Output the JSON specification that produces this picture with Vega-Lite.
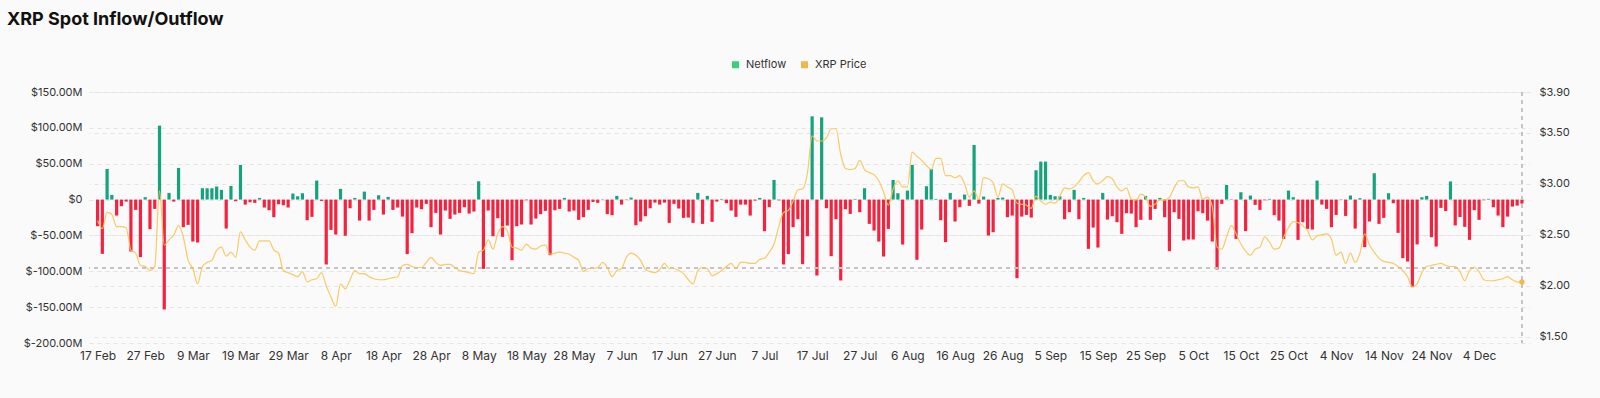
{
"$schema": "https://vega.github.io/schema/vega-lite/v6.json",
"width": 1441, "height": 251,
"autosize": "none",
"padding": {"left": 89, "top": 92, "right": 70, "bottom": 55},
"background": "#fafafa",
"title": {"text": "XRP Spot Inflow/Outflow", "anchor": "start", "frame": "group", "dx": -82, "dy": -26, "fontSize": 18, "fontWeight": 700, "font": "Inter", "color": "#111111"},
"config": {
 "view": {"stroke": null},
 "font": "Inter",
 "axis": {"labelFont": "Inter", "labelFontSize": 11, "labelColor": "#333333", "ticks": false, "domain": false, "title": null, "gridColor": "#e4e4e4", "gridDash": [4, 4], "gridWidth": 1, "labelOverlap": false},
 "legend": {"orient": "none", "legendX": 641, "legendY": -33, "direction": "horizontal", "title": null, "symbolType": "square", "symbolSize": 49, "symbolOpacity": 1, "symbolStrokeWidth": 0, "labelFont": "Inter", "labelFontSize": 11, "labelColor": "#333333", "labelOffset": 5, "columnPadding": 12, "padding": 0}
},
"data": {"values": [
{"date":"2025-02-17","netflow":-37.1,"price":2.64},{"date":"2025-02-18","netflow":-75.7,"price":2.56},{"date":"2025-02-19","netflow":42.7,"price":2.72},{"date":"2025-02-20","netflow":6.5,"price":2.70},{"date":"2025-02-21","netflow":-22.3,"price":2.58},{"date":"2025-02-22","netflow":-9.3,"price":2.58},{"date":"2025-02-23","netflow":-2.8,"price":2.57},{"date":"2025-02-24","netflow":-72.4,"price":2.35},{"date":"2025-02-25","netflow":-14.4,"price":2.32},{"date":"2025-02-26","netflow":-80.3,"price":2.20},{"date":"2025-02-27","netflow":3.3,"price":2.19},{"date":"2025-02-28","netflow":-41.3,"price":2.15},
{"date":"2025-03-01","netflow":-13.0,"price":2.19},{"date":"2025-03-02","netflow":103.1,"price":2.93},{"date":"2025-03-03","netflow":-153.2,"price":2.40},{"date":"2025-03-04","netflow":9.3,"price":2.45},{"date":"2025-03-05","netflow":-2.8,"price":2.50},{"date":"2025-03-06","netflow":44.1,"price":2.59},{"date":"2025-03-07","netflow":-38.5,"price":2.48},{"date":"2025-03-08","netflow":-35.3,"price":2.25},{"date":"2025-03-09","netflow":-58.5,"price":2.17},{"date":"2025-03-10","netflow":-59.9,"price":2.02},{"date":"2025-03-11","netflow":15.8,"price":2.19},{"date":"2025-03-12","netflow":15.8,"price":2.23},{"date":"2025-03-13","netflow":15.8,"price":2.25},{"date":"2025-03-14","netflow":18.1,"price":2.35},{"date":"2025-03-15","netflow":13.5,"price":2.38},{"date":"2025-03-16","netflow":-40.4,"price":2.29},{"date":"2025-03-17","netflow":19.0,"price":2.33},{"date":"2025-03-18","netflow":-2.3,"price":2.28},{"date":"2025-03-19","netflow":48.3,"price":2.53},{"date":"2025-03-20","netflow":-7.0,"price":2.45},{"date":"2025-03-21","netflow":-3.7,"price":2.38},{"date":"2025-03-22","netflow":-4.6,"price":2.35},{"date":"2025-03-23","netflow":2.3,"price":2.44},{"date":"2025-03-24","netflow":-11.1,"price":2.44},{"date":"2025-03-25","netflow":-14.9,"price":2.44},{"date":"2025-03-26","netflow":-24.6,"price":2.35},{"date":"2025-03-27","netflow":-6.5,"price":2.32},{"date":"2025-03-28","netflow":-7.9,"price":2.15},{"date":"2025-03-29","netflow":-11.1,"price":2.13},{"date":"2025-03-30","netflow":8.4,"price":2.11},{"date":"2025-03-31","netflow":4.6,"price":2.09},
{"date":"2025-04-01","netflow":8.8,"price":2.14},{"date":"2025-04-02","netflow":-28.8,"price":2.04},{"date":"2025-04-03","netflow":-24.1,"price":2.06},{"date":"2025-04-04","netflow":26.5,"price":2.07},{"date":"2025-04-05","netflow":-1.9,"price":2.13},{"date":"2025-04-06","netflow":-90.5,"price":2.00},{"date":"2025-04-07","netflow":-42.3,"price":1.89},{"date":"2025-04-08","netflow":-48.8,"price":1.80},{"date":"2025-04-09","netflow":14.9,"price":2.02},{"date":"2025-04-10","netflow":-50.6,"price":1.97},{"date":"2025-04-11","netflow":-12.1,"price":2.06},{"date":"2025-04-12","netflow":2.3,"price":2.15},{"date":"2025-04-13","netflow":-29.3,"price":2.12},{"date":"2025-04-14","netflow":11.1,"price":2.12},{"date":"2025-04-15","netflow":-29.3,"price":2.09},{"date":"2025-04-16","netflow":-14.4,"price":2.07},{"date":"2025-04-17","netflow":6.0,"price":2.06},{"date":"2025-04-18","netflow":-20.9,"price":2.06},{"date":"2025-04-19","netflow":3.7,"price":2.07},{"date":"2025-04-20","netflow":-14.4,"price":2.08},{"date":"2025-04-21","netflow":-11.1,"price":2.09},{"date":"2025-04-22","netflow":-23.7,"price":2.20},{"date":"2025-04-23","netflow":-76.1,"price":2.21},{"date":"2025-04-24","netflow":-46.9,"price":2.19},{"date":"2025-04-25","netflow":-11.1,"price":2.18},{"date":"2025-04-26","netflow":-13.5,"price":2.18},{"date":"2025-04-27","netflow":-6.0,"price":2.23},{"date":"2025-04-28","netflow":-38.5,"price":2.28},{"date":"2025-04-29","netflow":-18.6,"price":2.23},{"date":"2025-04-30","netflow":-48.8,"price":2.20},
{"date":"2025-05-01","netflow":-15.3,"price":2.21},{"date":"2025-05-02","netflow":-26.9,"price":2.21},{"date":"2025-05-03","netflow":-20.9,"price":2.18},{"date":"2025-05-04","netflow":-18.6,"price":2.15},{"date":"2025-05-05","netflow":-10.7,"price":2.14},{"date":"2025-05-06","netflow":-19.5,"price":2.13},{"date":"2025-05-07","netflow":-16.7,"price":2.12},{"date":"2025-05-08","netflow":25.5,"price":2.33},{"date":"2025-05-09","netflow":-96.6,"price":2.35},{"date":"2025-05-10","netflow":-15.3,"price":2.45},{"date":"2025-05-11","netflow":-51.1,"price":2.36},{"date":"2025-05-12","netflow":-26.0,"price":2.51},{"date":"2025-05-13","netflow":-52.0,"price":2.58},{"date":"2025-05-14","netflow":-36.2,"price":2.54},{"date":"2025-05-15","netflow":-84.5,"price":2.38},{"date":"2025-05-16","netflow":-37.1,"price":2.37},{"date":"2025-05-17","netflow":-34.8,"price":2.35},{"date":"2025-05-18","netflow":-1.0,"price":2.41},{"date":"2025-05-19","netflow":-34.8,"price":2.37},{"date":"2025-05-20","netflow":-26.5,"price":2.36},{"date":"2025-05-21","netflow":-20.4,"price":2.39},{"date":"2025-05-22","netflow":-15.8,"price":2.40},{"date":"2025-05-23","netflow":-77.5,"price":2.31},{"date":"2025-05-24","netflow":-14.9,"price":2.32},{"date":"2025-05-25","netflow":-13.0,"price":2.33},{"date":"2025-05-26","netflow":2.3,"price":2.32},{"date":"2025-05-27","netflow":-16.7,"price":2.31},{"date":"2025-05-28","netflow":-15.3,"price":2.28},{"date":"2025-05-29","netflow":-28.3,"price":2.25},{"date":"2025-05-30","netflow":-24.6,"price":2.14},{"date":"2025-05-31","netflow":-14.4,"price":2.17},
{"date":"2025-06-01","netflow":-3.3,"price":2.17},{"date":"2025-06-02","netflow":-4.6,"price":2.18},{"date":"2025-06-03","netflow":0.5,"price":2.23},{"date":"2025-06-04","netflow":-20.4,"price":2.18},{"date":"2025-06-05","netflow":-21.8,"price":2.09},{"date":"2025-06-06","netflow":5.1,"price":2.15},{"date":"2025-06-07","netflow":-7.0,"price":2.17},{"date":"2025-06-08","netflow":-0.5,"price":2.28},{"date":"2025-06-09","netflow":2.8,"price":2.32},{"date":"2025-06-10","netflow":-35.8,"price":2.30},{"date":"2025-06-11","netflow":-30.6,"price":2.25},{"date":"2025-06-12","netflow":-23.2,"price":2.16},{"date":"2025-06-13","netflow":-12.1,"price":2.14},{"date":"2025-06-14","netflow":-4.2,"price":2.13},{"date":"2025-06-15","netflow":-7.0,"price":2.16},{"date":"2025-06-16","netflow":-4.2,"price":2.22},{"date":"2025-06-17","netflow":-32.5,"price":2.17},{"date":"2025-06-18","netflow":-6.0,"price":2.17},{"date":"2025-06-19","netflow":-12.5,"price":2.15},{"date":"2025-06-20","netflow":-25.5,"price":2.12},{"date":"2025-06-21","netflow":-25.1,"price":2.06},{"date":"2025-06-22","netflow":-32.5,"price":2.02},{"date":"2025-06-23","netflow":9.3,"price":2.15},{"date":"2025-06-24","netflow":-33.9,"price":2.18},{"date":"2025-06-25","netflow":5.1,"price":2.17},{"date":"2025-06-26","netflow":-31.1,"price":2.10},{"date":"2025-06-27","netflow":-2.8,"price":2.12},{"date":"2025-06-28","netflow":0.9,"price":2.15},{"date":"2025-06-29","netflow":-5.1,"price":2.19},{"date":"2025-06-30","netflow":-15.3,"price":2.22},
{"date":"2025-07-01","netflow":-24.1,"price":2.17},{"date":"2025-07-02","netflow":-7.0,"price":2.23},{"date":"2025-07-03","netflow":-7.0,"price":2.23},{"date":"2025-07-04","netflow":-22.3,"price":2.22},{"date":"2025-07-05","netflow":-1.4,"price":2.22},{"date":"2025-07-06","netflow":2.3,"price":2.26},{"date":"2025-07-07","netflow":-44.1,"price":2.27},{"date":"2025-07-08","netflow":-10.7,"price":2.33},{"date":"2025-07-09","netflow":27.4,"price":2.41},{"date":"2025-07-10","netflow":-1.0,"price":2.58},{"date":"2025-07-11","netflow":-90.5,"price":2.72},{"date":"2025-07-12","netflow":-76.1,"price":2.74},{"date":"2025-07-13","netflow":-38.5,"price":2.83},{"date":"2025-07-14","netflow":-27.4,"price":2.94},{"date":"2025-07-15","netflow":-90.1,"price":2.95},{"date":"2025-07-16","netflow":-51.1,"price":3.10},{"date":"2025-07-17","netflow":116.1,"price":3.47},{"date":"2025-07-18","netflow":-105.9,"price":3.42},{"date":"2025-07-19","netflow":114.7,"price":3.42},{"date":"2025-07-20","netflow":-12.1,"price":3.45},{"date":"2025-07-21","netflow":-78.9,"price":3.54},{"date":"2025-07-22","netflow":-27.4,"price":3.54},{"date":"2025-07-23","netflow":-112.8,"price":3.29},{"date":"2025-07-24","netflow":-13.5,"price":3.15},{"date":"2025-07-25","netflow":-20.0,"price":3.14},{"date":"2025-07-26","netflow":0.9,"price":3.15},{"date":"2025-07-27","netflow":-17.6,"price":3.23},{"date":"2025-07-28","netflow":15.8,"price":3.14},{"date":"2025-07-29","netflow":-33.9,"price":3.11},{"date":"2025-07-30","netflow":-43.2,"price":3.09},{"date":"2025-07-31","netflow":-58.5,"price":3.03},
{"date":"2025-08-01","netflow":-79.4,"price":2.92},{"date":"2025-08-02","netflow":-40.9,"price":2.79},{"date":"2025-08-03","netflow":27.4,"price":2.95},{"date":"2025-08-04","netflow":8.8,"price":3.03},{"date":"2025-08-05","netflow":-62.7,"price":2.97},{"date":"2025-08-06","netflow":12.5,"price":2.97},{"date":"2025-08-07","netflow":48.3,"price":3.31},{"date":"2025-08-08","netflow":-84.0,"price":3.27},{"date":"2025-08-09","netflow":-41.8,"price":3.23},{"date":"2025-08-10","netflow":18.6,"price":3.18},{"date":"2025-08-11","netflow":42.7,"price":3.14},{"date":"2025-08-12","netflow":0.9,"price":3.25},{"date":"2025-08-13","netflow":-28.8,"price":3.25},{"date":"2025-08-14","netflow":-59.4,"price":3.08},{"date":"2025-08-15","netflow":9.3,"price":3.08},{"date":"2025-08-16","netflow":-30.6,"price":3.06},{"date":"2025-08-17","netflow":-10.7,"price":3.08},{"date":"2025-08-18","netflow":7.0,"price":3.00},{"date":"2025-08-19","netflow":-8.8,"price":2.87},{"date":"2025-08-20","netflow":76.1,"price":2.93},{"date":"2025-08-21","netflow":-5.6,"price":2.85},{"date":"2025-08-22","netflow":4.2,"price":3.06},{"date":"2025-08-23","netflow":-50.1,"price":3.05},{"date":"2025-08-24","netflow":-45.5,"price":3.01},{"date":"2025-08-25","netflow":2.3,"price":2.87},{"date":"2025-08-26","netflow":2.8,"price":3.00},{"date":"2025-08-27","netflow":-24.6,"price":2.97},{"date":"2025-08-28","netflow":-22.3,"price":2.94},{"date":"2025-08-29","netflow":-109.6,"price":2.81},{"date":"2025-08-30","netflow":-23.7,"price":2.80},{"date":"2025-08-31","netflow":-21.4,"price":2.79},
{"date":"2025-09-01","netflow":-25.1,"price":2.76},{"date":"2025-09-02","netflow":40.9,"price":2.88},{"date":"2025-09-03","netflow":52.9,"price":2.83},{"date":"2025-09-04","netflow":52.9,"price":2.80},{"date":"2025-09-05","netflow":6.5,"price":2.82},{"date":"2025-09-06","netflow":4.6,"price":2.81},{"date":"2025-09-07","netflow":4.6,"price":2.88},{"date":"2025-09-08","netflow":-27.4,"price":2.96},{"date":"2025-09-09","netflow":-17.6,"price":2.95},{"date":"2025-09-10","netflow":13.5,"price":2.97},{"date":"2025-09-11","netflow":-27.4,"price":3.02},{"date":"2025-09-12","netflow":2.3,"price":3.08},{"date":"2025-09-13","netflow":-68.7,"price":3.11},{"date":"2025-09-14","netflow":-39.0,"price":3.03},{"date":"2025-09-15","netflow":-66.9,"price":3.00},{"date":"2025-09-16","netflow":9.3,"price":3.03},{"date":"2025-09-17","netflow":-27.9,"price":3.07},{"date":"2025-09-18","netflow":-23.2,"price":3.05},{"date":"2025-09-19","netflow":-31.6,"price":2.97},{"date":"2025-09-20","netflow":-47.8,"price":2.93},{"date":"2025-09-21","netflow":-19.0,"price":2.96},{"date":"2025-09-22","netflow":-19.5,"price":2.85},{"date":"2025-09-23","netflow":-38.5,"price":2.84},{"date":"2025-09-24","netflow":-28.3,"price":2.90},{"date":"2025-09-25","netflow":5.1,"price":2.87},{"date":"2025-09-26","netflow":-28.3,"price":2.78},{"date":"2025-09-27","netflow":-13.0,"price":2.80},{"date":"2025-09-28","netflow":2.3,"price":2.84},{"date":"2025-09-29","netflow":-24.6,"price":2.84},{"date":"2025-09-30","netflow":-72.0,"price":2.87},
{"date":"2025-10-01","netflow":-17.6,"price":2.96},{"date":"2025-10-02","netflow":-26.9,"price":3.03},{"date":"2025-10-03","netflow":-57.1,"price":3.03},{"date":"2025-10-04","netflow":-55.7,"price":2.97},{"date":"2025-10-05","netflow":-55.7,"price":2.96},{"date":"2025-10-06","netflow":-16.3,"price":2.97},{"date":"2025-10-07","netflow":-19.0,"price":2.85},{"date":"2025-10-08","netflow":-29.3,"price":2.87},{"date":"2025-10-09","netflow":-58.5,"price":2.78},{"date":"2025-10-10","netflow":-97.5,"price":2.38},{"date":"2025-10-11","netflow":-6.0,"price":2.36},{"date":"2025-10-12","netflow":20.4,"price":2.48},{"date":"2025-10-13","netflow":-0.5,"price":2.59},{"date":"2025-10-14","netflow":-54.8,"price":2.51},{"date":"2025-10-15","netflow":10.2,"price":2.41},{"date":"2025-10-16","netflow":-44.1,"price":2.34},{"date":"2025-10-17","netflow":5.6,"price":2.30},{"date":"2025-10-18","netflow":-7.4,"price":2.36},{"date":"2025-10-19","netflow":-14.4,"price":2.38},{"date":"2025-10-20","netflow":-1.0,"price":2.48},{"date":"2025-10-21","netflow":1.0,"price":2.43},{"date":"2025-10-22","netflow":-21.8,"price":2.36},{"date":"2025-10-23","netflow":-29.3,"price":2.37},{"date":"2025-10-24","netflow":-54.8,"price":2.48},{"date":"2025-10-25","netflow":12.5,"price":2.57},{"date":"2025-10-26","netflow":3.3,"price":2.63},{"date":"2025-10-27","netflow":-56.2,"price":2.62},{"date":"2025-10-28","netflow":-31.6,"price":2.59},{"date":"2025-10-29","netflow":-40.9,"price":2.54},{"date":"2025-10-30","netflow":-41.8,"price":2.45},{"date":"2025-10-31","netflow":26.5,"price":2.49},
{"date":"2025-11-01","netflow":-7.0,"price":2.50},{"date":"2025-11-02","netflow":-13.0,"price":2.51},{"date":"2025-11-03","netflow":-38.5,"price":2.46},{"date":"2025-11-04","netflow":-21.4,"price":2.30},{"date":"2025-11-05","netflow":-0.5,"price":2.33},{"date":"2025-11-06","netflow":-22.8,"price":2.22},{"date":"2025-11-07","netflow":5.6,"price":2.32},{"date":"2025-11-08","netflow":-40.4,"price":2.23},{"date":"2025-11-09","netflow":1.9,"price":2.32},{"date":"2025-11-10","netflow":-66.4,"price":2.51},{"date":"2025-11-11","netflow":-30.6,"price":2.40},{"date":"2025-11-12","netflow":36.7,"price":2.33},{"date":"2025-11-13","netflow":-33.9,"price":2.27},{"date":"2025-11-14","netflow":-25.5,"price":2.24},{"date":"2025-11-15","netflow":8.8,"price":2.23},{"date":"2025-11-16","netflow":-5.1,"price":2.22},{"date":"2025-11-17","netflow":-46.4,"price":2.19},{"date":"2025-11-18","netflow":-81.7,"price":2.15},{"date":"2025-11-19","netflow":-86.4,"price":2.09},{"date":"2025-11-20","netflow":-122.1,"price":1.99},{"date":"2025-11-21","netflow":-62.5,"price":2.02},{"date":"2025-11-22","netflow":3.2,"price":2.13},{"date":"2025-11-23","netflow":5.1,"price":2.19},{"date":"2025-11-24","netflow":-52.5,"price":2.20},{"date":"2025-11-25","netflow":-65.5,"price":2.21},{"date":"2025-11-26","netflow":-11.6,"price":2.22},{"date":"2025-11-27","netflow":-16.0,"price":2.20},{"date":"2025-11-28","netflow":25.3,"price":2.19},{"date":"2025-11-29","netflow":-36.0,"price":2.19},{"date":"2025-11-30","netflow":-24.3,"price":2.14},
{"date":"2025-12-01","netflow":-38.0,"price":2.05},{"date":"2025-12-02","netflow":-56.2,"price":2.15},{"date":"2025-12-03","netflow":-14.8,"price":2.18},{"date":"2025-12-04","netflow":-28.3,"price":2.14},{"date":"2025-12-05","netflow":-0.8,"price":2.06},{"date":"2025-12-06","netflow":1.0,"price":2.05},{"date":"2025-12-07","netflow":-10.7,"price":2.05},{"date":"2025-12-08","netflow":-22.3,"price":2.06},{"date":"2025-12-09","netflow":-38.5,"price":2.07},{"date":"2025-12-10","netflow":-23.7,"price":2.09},{"date":"2025-12-11","netflow":-9.8,"price":2.06},{"date":"2025-12-12","netflow":-8.4,"price":2.04},{"date":"2025-12-13","netflow":-5.6,"price":2.0375}
]},
"layer": [
 {"layer": [
  {"mark": {"type": "bar", "size": 3.2},
   "encoding": {
    "x": {"field": "date", "type": "temporal", "scale": {"type": "utc", "domain": [1739685600000, 1765639800000]}, "axis": {"values": [1739750400000,1740614400000,1741478400000,1742342400000,1743206400000,1744070400000,1744934400000,1745798400000,1746662400000,1747526400000,1748390400000,1749254400000,1750118400000,1750982400000,1751846400000,1752710400000,1753574400000,1754438400000,1755302400000,1756166400000,1757030400000,1757894400000,1758758400000,1759622400000,1760486400000,1761350400000,1762214400000,1763078400000,1763942400000,1764806400000], "labelExpr": "utcFormat(datum.value, '%-d %b')", "grid": false, "labelPadding": 7, "labelFontSize": 12, "labelOverlap": false}},
    "y": {"field": "netflow", "type": "quantitative", "scale": {"domain": [-200, 150], "nice": false, "zero": false}, "axis": {"orient": "left", "values": [-200, -150, -100, -50, 0, 50, 100, 150], "labelExpr": "datum.value == 0 ? '$0' : (datum.value < 0 ? '$-' : '$') + format(abs(datum.value), '.2f') + 'M'", "grid": true, "labelPadding": 7, "labelOverlap": false}},
    "color": {"condition": {"test": "datum.netflow >= 0", "value": "#14a37c"}, "value": "#f5223f"}
   }},
  {"mark": {"type": "rule", "strokeDash": [4, 4], "color": "#c4c4c4", "strokeWidth": 1},
   "encoding": {"y": {"datum": -95.23769088, "type": "quantitative", "axis": {"orient": "left", "values": [-200, -150, -100, -50, 0, 50, 100, 150], "labelExpr": "datum.value == 0 ? '$0' : (datum.value < 0 ? '$-' : '$') + format(abs(datum.value), '.2f') + 'M'", "grid": true, "labelPadding": 7, "labelOverlap": false}}}},
  {"mark": {"type": "rule", "strokeDash": [4, 4], "color": "#c4c4c4", "strokeWidth": 1},
   "encoding": {"x": {"datum": 1765584000000, "type": "temporal"}}}
 ]},
 {"layer": [
  {"mark": {"type": "line", "interpolate": "monotone", "color": "#f8c455", "strokeWidth": 1.2, "opacity": 0.9},
   "encoding": {
    "x": {"field": "date", "type": "temporal"},
    "y": {"field": "price", "type": "quantitative", "scale": {"domain": [1.44, 3.9], "nice": false, "zero": false}, "axis": {"orient": "right", "values": [1.5, 2, 2.5, 3, 3.5, 3.9], "labelExpr": "'$' + format(datum.value, '.2f')", "grid": true, "labelPadding": 9, "labelOverlap": false}}
   }},
  {"transform": [{"filter": "time(datum.date) == 1765584000000"}],
   "mark": {"type": "point", "filled": true, "size": 30, "color": "#f2b94b", "opacity": 1},
   "encoding": {
    "x": {"field": "date", "type": "temporal"},
    "y": {"field": "price", "type": "quantitative"}
   }}
 ]},
 {"data": {"values": [{"series": "Netflow"}, {"series": "XRP Price"}]},
  "mark": {"type": "point", "shape": "square", "filled": true, "opacity": 0},
  "encoding": {"color": {"field": "series", "type": "nominal", "scale": {"domain": ["Netflow", "XRP Price"], "range": ["#3ecf7c", "#ebb94a"]}}}}
],
"resolve": {"scale": {"y": "independent"}}
}
